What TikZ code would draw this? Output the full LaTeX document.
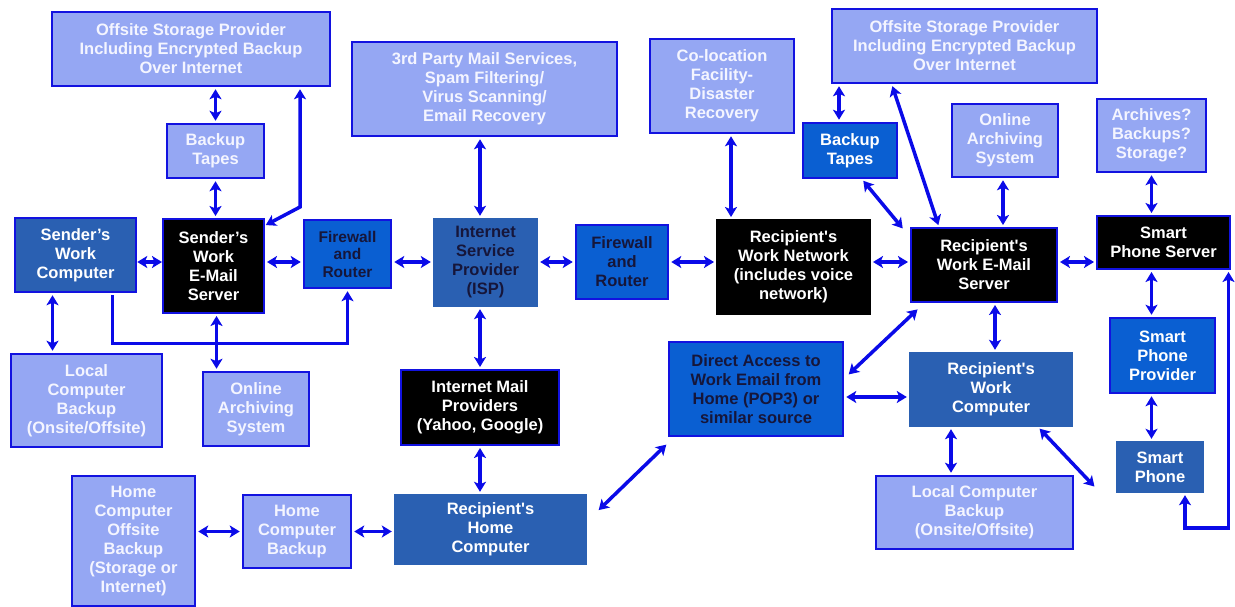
\documentclass[tikz,border=0pt]{standalone}
\usepackage{fontspec}
\setmainfont{Liberation Sans}
\usetikzlibrary{arrows.meta}

\definecolor{paleblue}{HTML}{95A7F3}
\definecolor{steelblue}{HTML}{2A60B2}
\definecolor{brightblue}{HTML}{0A5FD2}
\definecolor{edgeblue}{HTML}{1212E0}
\definecolor{arrowblue}{HTML}{0A0AE8}
\definecolor{paletext}{HTML}{F4F5FF}
\definecolor{darktext}{HTML}{16163A}

\begin{document}
\begin{tikzpicture}[x=1pt,y=-1pt,
    box/.style={rectangle, inner sep=0pt, align=center,
        font=\bfseries\fontsize{16.5}{19}\selectfont},
    size/.style 2 args={minimum width=#1pt, minimum height=#2pt},
    pale/.style={box, fill=paleblue, draw=edgeblue, line width=2.5pt, text=paletext},
    steel/.style={box, fill=steelblue, text=white},
    bright/.style={box, fill=brightblue, draw=edgeblue, line width=2.5pt, text=darktext},
    night/.style={box, fill=black, draw=edgeblue, line width=2pt, text=white},
    >={Stealth[length=10pt,width=12pt,inset=2.5pt]},
    link/.style={arrowblue, line width=3.5pt, <->, shorten <=2pt, shorten >=2pt},
    oneway/.style={link, ->}]
    \useasboundingbox (0,0) rectangle (1235,607);
    \coordinate (axis) at (0,262);

    % sender side
    \node[pale, size={278}{74}] (offL) at (191,49)
        {Offsite Storage Provider\\Including Encrypted Backup\\Over Internet};
    \node[pale, size={97}{54}] (tapesL) at (215.5,151) {Backup\\Tapes};
    \node[steel, draw=edgeblue, line width=2.5pt, size={121}{74}] (sendPC) at (75.5,255)
        {Sender's\\Work\\Computer};
    \node[night, size={101}{94}] (sendSrv) at (213.5,266) {Sender's\\Work\\E-Mail\\Server};
    \node[bright, size={87}{68}, font=\bfseries\fontsize{15.5}{17.5}\selectfont] (fwL) at (347.5,254)
        {Firewall\\and\\Router};
    \node[pale, size={151}{93}] (lcbL) at (86.5,400.5)
        {Local\\Computer\\Backup\\(Onsite/Offsite)};
    \node[pale, size={106}{74}] (onlL) at (256,409) {Online\\Archiving\\System};

    % internet
    \node[steel, text=darktext, size={105}{89}] (isp) at (485.5,262.5)
        {Internet\\Service\\Provider\\(ISP)};
    \node[pale, size={265}{94}] (third) at (484.5,89)
        {3rd Party Mail Services,\\Spam Filtering/\\Virus Scanning/\\Email Recovery};
    \node[bright, size={92}{74}] (fwM) at (622,262) {Firewall\\and\\Router};
    \node[night, size={158}{75}] (imp) at (480,407.5)
        {Internet Mail\\Providers\\(Yahoo, Google)};

    % home
    \node[steel, size={193}{71}] (rhome) at (490.5,529.5)
        {Recipient\textquotesingle s\\Home\\Computer};
    \node[pale, size={108}{73}] (hcb) at (297,531.5) {Home\\Computer\\Backup};
    \node[pale, size={123}{130}] (hcob) at (133.5,541)
        {Home\\Computer\\Offsite\\Backup\\(Storage or\\Internet)};

    % recipient side
    \node[pale, size={144}{94}] (coloc) at (722,86)
        {Co-location\\Facility-\\Disaster\\Recovery};
    \node[night, draw=black, size={153}{94}] (rnet) at (793.5,267)
        {Recipient\textquotesingle s\\Work Network\\(includes voice\\network)};
    \node[bright, text=white, size={94}{55}] (tapesR) at (850,150.5) {Backup\\Tapes};
    \node[pale, size={265}{74}] (offR) at (964.5,46)
        {Offsite Storage Provider\\Including Encrypted Backup\\Over Internet};
    \node[pale, size={106}{73}] (onlR) at (1005,140.5) {Online\\Archiving\\System};
    \node[pale, size={109}{73}] (arch) at (1151.5,135.5) {Archives?\\Backups?\\Storage?};
    \node[night, size={146}{74}] (rsrv) at (984,265)
        {Recipient\textquotesingle s\\Work E-Mail\\Server};
    \node[night, size={133}{53}] (sps) at (1163.5,242.5) {Smart\\Phone Server};
    \node[bright, text=white, size={105}{75}] (spp) at (1162.5,355.5) {Smart\\Phone\\Provider};
    \node[steel, size={88}{52}] (sp) at (1160,467) {Smart\\Phone};
    \node[steel, size={164}{75}] (rpc) at (991,389.5)
        {Recipient\textquotesingle s\\Work\\Computer};
    \node[pale, size={197}{73}] (lcbR) at (974.5,512.5)
        {Local Computer\\Backup\\(Onsite/Offsite)};
    \node[bright, size={174}{94}] (direct) at (756,389)
        {Direct Access to\\Work Email from\\Home (POP3) or\\similar source};

    % main line
    \draw[link, shorten <=0pt, shorten >=0pt] (sendPC.east |- axis) -- (sendSrv.west |- axis);
    \draw[link] (sendSrv.east |- axis) -- (fwL.west |- axis);
    \draw[link] (fwL.east |- axis) -- (isp.west |- axis);
    \draw[link] (isp.east |- axis) -- (fwM.west |- axis);
    \draw[link] (fwM.east |- axis) -- (rnet.west |- axis);
    \draw[link] (rnet.east |- axis) -- (rsrv.west |- axis);
    \draw[link] (rsrv.east |- axis) -- (sps.west |- axis);

    \draw[link] (offL.south -| tapesL.north) -- (tapesL.north);
    \draw[link] (tapesL.south) -- (tapesL.south |- sendSrv.north);
    \draw[link] ([xshift=-1pt,yshift=-8pt]sendSrv.north east) -- ++(36,-19) coordinate (kneeL)
        -- (kneeL |- offL.south);
    \draw[link] ([xshift=-23pt]sendPC.south) -- ([xshift=-23pt]sendPC.south |- lcbL.north);
    \draw[oneway] ([xshift=37pt]sendPC.south) -- ++(0,50) -| (fwL.south);
    \draw[link] ([xshift=3pt]sendSrv.south) -- ([xshift=3pt]sendSrv.south |- onlL.north);

    \draw[link] (third.south -| imp) -- (isp.north -| imp);
    \draw[link] (isp.south -| imp) -- (imp.north);
    \draw[link] (imp.south) -- (rhome.north -| imp);
    \draw[link] (hcob.east |- hcb) -- (hcb.west);
    \draw[link] (hcb.east) -- (hcb.east -| rhome.west);
    \draw[link] ([xshift=10pt,yshift=18pt]rhome.east) -- ([yshift=-6pt]direct.south west);

    \draw[link] ([xshift=9pt]coloc.south) -- ([xshift=9pt]coloc.south |- rnet.north);
    \draw[link] ([yshift=-8pt]direct.east) -- ([yshift=-8pt]direct.east -| rpc.west);
    \draw[link] ([xshift=3pt,yshift=-35pt]direct.north east) -- ([xshift=9pt,yshift=-5pt]rsrv.south west);
    \draw[link] ([xshift=11pt]rsrv.south) -- ([xshift=11pt]rsrv.south |- rpc.north);
    \draw[link] ([xshift=-40pt]rpc.south) -- ([xshift=-40pt]rpc.south |- lcbR.north);
    \coordinate (spgap) at ([xshift=-20pt,yshift=-21pt]sp.west);
    \draw[link] ([xshift=-35pt]rpc.south east) -- (spgap);
    \draw[link] ([xshift=12pt]tapesR.south) -- ([xshift=-6pt,yshift=-3pt]rsrv.north west);
    \draw[link] ([xshift=-11pt]tapesR.north) -- ([xshift=-11pt]tapesR.north |- offR.south);
    \draw[link] ([xshift=61pt]offR.south west) -- ([xshift=29pt]rsrv.north west);
    \draw[link] ([xshift=-2pt]onlR.south) -- ([xshift=-2pt]onlR.south |- rsrv.north);
    \draw[link] (arch.south) -- (arch.south |- sps.north);
    \draw[link] (sps.south -| arch) -- (spp.north -| arch);
    \draw[link] (spp.south -| arch) -- (sp.north -| arch);
    \draw[link] ([xshift=25pt]sp.south) -- ++(0,35) -| ([xshift=-2.5pt]sps.south east);
\end{tikzpicture}
\end{document}
